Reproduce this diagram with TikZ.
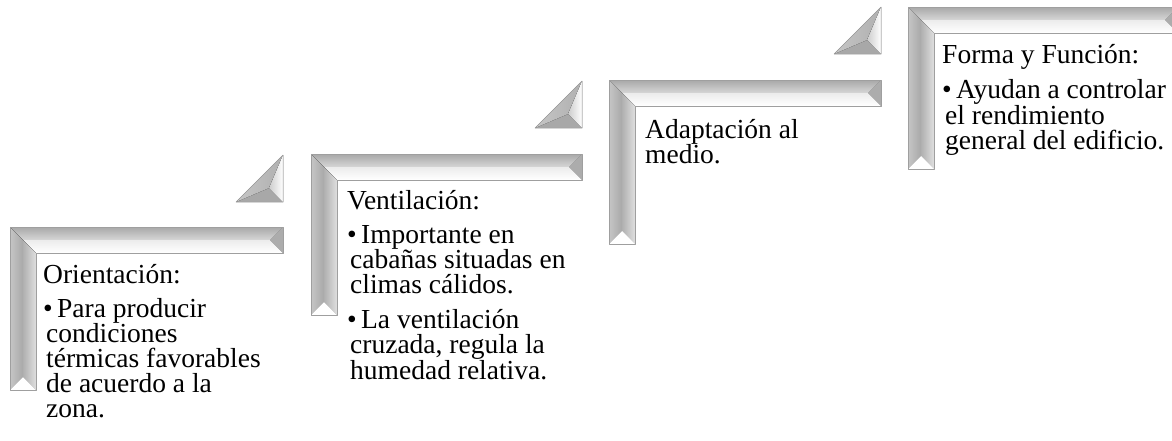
\documentclass[tikz,border=0pt]{standalone}
\usepackage{fontspec}
\setmainfont{Liberation Serif}

\begin{document}
\begin{tikzpicture}[
    x=1pt, y=-1pt,
    edge/.style={draw=gray!75, line width=0.5pt, line join=round},
    steptext/.style={anchor=north west, inner sep=0pt, align=left, font=\fontsize{27.5}{25}\selectfont}
]
\clip (0,0) rectangle (1172,440);

% bevelled corner frames
\foreach \x/\y/\w/\h in {10/227/273/163, 311/154/271/161, 609/80/272/164, 908/7/270/162} {
  \begin{scope}[shift={(\x,\y)}]
    \fill[top color=gray!68, bottom color=gray!32] (0,0) -- (\w,0) -- (\w-13,13) -- (13,13) -- cycle;
    \fill[top color=gray!15, bottom color=white] (13,13) -- (\w-13,13) -- (\w,26) -- (26,26) -- cycle;
    \fill[gray!65] (\w,0) -- (\w,26) -- (\w-13,13) -- cycle;
    \fill[left color=gray!45, right color=gray!68] (0,0) -- (13,13) -- (13,\h-13) -- (0,\h) -- cycle;
    \fill[left color=gray!62, right color=gray!25] (13,13) -- (26,26) -- (26,\h) -- (13,\h-13) -- cycle;
    \fill[white] (0,\h) -- (13,\h-13) -- (26,\h) -- cycle;
    \draw[edge] (0,0) -- (\w,0) -- (\w,26) -- (26,26) -- (26,\h) -- (0,\h) -- cycle;
  \end{scope}
}

% small bevelled triangles
\foreach \x/\y in {283/202, 582/128, 881/54} {
  \begin{scope}[shift={(\x,\y)}]
    \fill[gray!68] (-47,0) -- (0,0) -- (-14,-14) -- cycle;
    \fill[left color=gray!45, right color=gray!62] (-47,0) -- (0,-47) -- (-14,-14) -- cycle;
    \fill[left color=gray!40, right color=white] (0,-47) -- (0,0) -- (-14,-14) -- cycle;
    \draw[edge] (-47,0) -- (0,-47) -- (0,0) -- cycle;
  \end{scope}
}

\node[steptext] (orient) at (43,264) {Orientación:\\[9pt]
  \makebox[14pt][l]{\textbullet}Para producir\\
  \hspace*{3pt}condiciones\\
  \hspace*{3pt}térmicas favorables\\
  \hspace*{3pt}de acuerdo a la\\
  \hspace*{3pt}zona.};
\node[steptext] (vent) at (347,190) {Ventilación:\\[9pt]
  \makebox[14pt][l]{\textbullet}Importante en\\
  \hspace*{3pt}cabañas situadas en\\
  \hspace*{3pt}climas cálidos.\\[10pt]
  \makebox[14pt][l]{\textbullet}La ventilación\\
  \hspace*{3pt}cruzada, regula la\\
  \hspace*{3pt}humedad relativa.};
\node[steptext] (adapt) at (645,119) {Adaptación al\\medio.};
\node[steptext] (forma) at (942,44) {Forma y Función:\\[9pt]
  \makebox[14pt][l]{\textbullet}Ayudan a controlar\\
  \hspace*{3pt}el rendimiento\\
  \hspace*{3pt}general del edificio.};
\end{tikzpicture}
\end{document}
